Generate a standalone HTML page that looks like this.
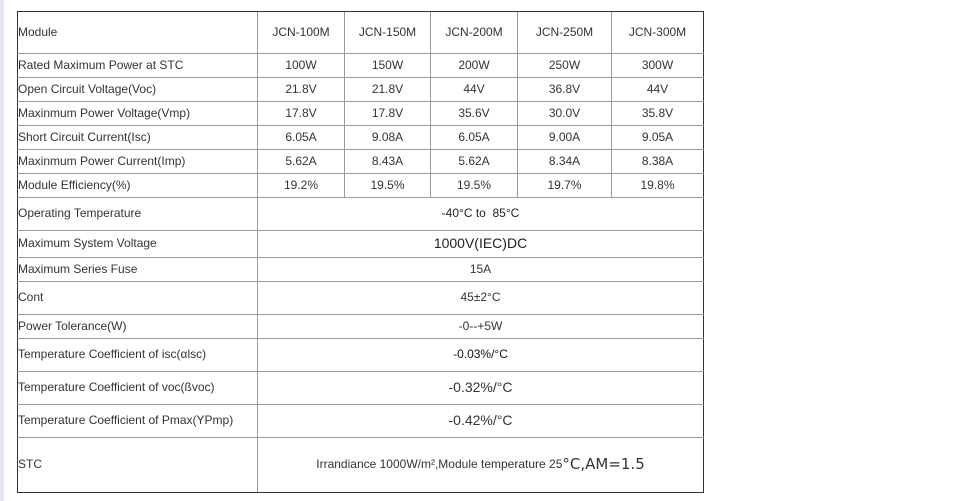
<!DOCTYPE html>
<html><head><meta charset="utf-8"><style>
body{margin:0;width:958px;height:501px;background:#fff;position:relative;overflow:hidden;font-family:"Liberation Sans",Arial,sans-serif;font-size:12px;color:#333}
.h{position:absolute;left:17px;width:687px;height:1px;background:#999}
.v{position:absolute;width:1px;background:#999}
.c{position:absolute;display:flex;align-items:center;white-space:nowrap;box-sizing:border-box;padding-bottom:2px}
.m{justify-content:center}
</style></head><body>
<div style="position:absolute;left:0;top:0;width:4px;height:501px;background:#e3e8f2"></div>
<div style="position:absolute;left:17px;top:11px;width:685px;height:480px;border:1px solid #333"></div>
<div class="h" style="top:53px"></div><div class="h" style="top:77px"></div><div class="h" style="top:101px"></div><div class="h" style="top:125px"></div><div class="h" style="top:149px"></div><div class="h" style="top:173px"></div><div class="h" style="top:197px"></div><div class="h" style="top:230px"></div><div class="h" style="top:257px"></div><div class="h" style="top:281px"></div><div class="h" style="top:314px"></div><div class="h" style="top:338px"></div><div class="h" style="top:371px"></div><div class="h" style="top:404px"></div><div class="h" style="top:437px"></div>
<div class="v" style="left:257px;top:12px;height:480px"></div>
<div class="v" style="left:344px;top:12px;height:186px"></div>
<div class="v" style="left:430px;top:12px;height:186px"></div>
<div class="v" style="left:517px;top:12px;height:186px"></div>
<div class="v" style="left:611px;top:12px;height:186px"></div>

<div id="g"></div>
<script>
var rows=[11,53,77,101,125,149,173,197,230,257,281,314,338,371,404,437,492];
var cols=[257,344,430,517,611,703];
var labels=["Module","Rated Maximum Power at STC","Open Circuit Voltage(Voc)","Maxinmum Power Voltage(Vmp)","Short Circuit Current(Isc)","Maxinmum Power Current(Imp)","Module Efficiency(%)","Operating Temperature","Maximum System Voltage","Maximum Series Fuse","Cont","Power Tolerance(W)","Temperature Coefficient of isc(αlsc)","Temperature Coefficient of voc(ßvoc)","Temperature Coefficient of Pmax(YPmp)","STC"];
var vals=[["JCN-100M","JCN-150M","JCN-200M","JCN-250M","JCN-300M"],["100W","150W","200W","250W","300W"],["21.8V","21.8V","44V","36.8V","44V"],["17.8V","17.8V","35.6V","30.0V","35.8V"],["6.05A","9.08A","6.05A","9.00A","9.05A"],["5.62A","8.43A","5.62A","8.34A","8.38A"],["19.2%","19.5%","19.5%","19.7%","19.8%"]];
var merged=[["-40°C to &nbsp;85°C",12,"#222"],["1000V(IEC)DC",14,"#222"],["15A",12],["45±2°C",12],["-0--+5W",12],["-0.03%/°C",12,"#111"],["-0.32%/°C",14],["-0.42%/°C",14],['Irrandiance 1000W/m²,Module temperature 25<span style="font-size:15px;font-family:\'DejaVu Sans\',sans-serif">°C,AM=1.5</span>',12]];
var h="";
for(var i=0;i<16;i++){var t=rows[i]+1,ht=rows[i+1]-rows[i]-1;
h+='<div class="c" style="left:18px;top:'+t+'px;height:'+ht+'px">'+labels[i]+'</div>';
if(i<7){for(var j=0;j<5;j++)h+='<div class="c m" style="left:'+(cols[j]+1)+'px;width:'+(cols[j+1]-cols[j]-1)+'px;top:'+t+'px;height:'+ht+'px">'+vals[i][j]+'</div>';}
else{var m=merged[i-7];h+='<div class="c m" style="left:258px;width:445px;top:'+t+'px;height:'+ht+'px;font-size:'+m[1]+'px;'+(m[2]?'color:'+m[2]:'')+'">'+m[0]+'</div>';}}
document.getElementById("g").innerHTML=h;
</script>
</body></html>
